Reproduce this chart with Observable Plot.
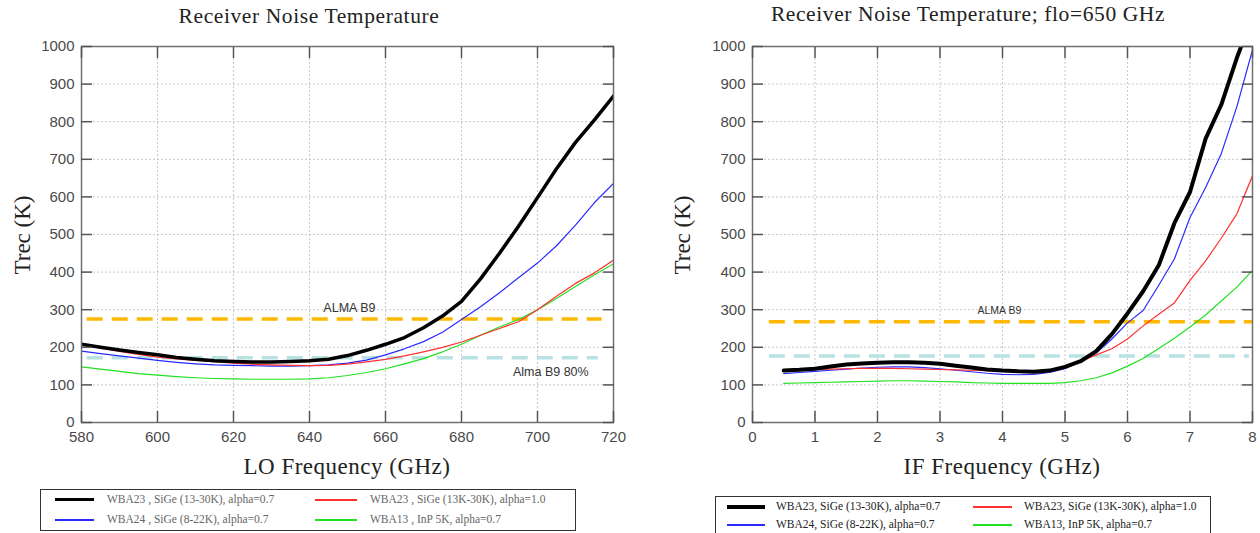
<!DOCTYPE html>
<html><head><meta charset="utf-8">
<script src="https://cdn.jsdelivr.net/npm/d3@7"></script>
<script src="https://cdn.jsdelivr.net/npm/@observablehq/plot@0.6"></script>
<style>
body{margin:0;background:#fff;}
#root{position:relative;width:1260px;height:533px;overflow:hidden;background:#fff;}
.abs{position:absolute;white-space:nowrap;line-height:1;}
.title{font-family:"Liberation Serif","DejaVu Serif",serif;font-size:21.5px;color:#222;transform:translateX(-50%);letter-spacing:0.6px;}
.xlab{font-family:"Liberation Serif","DejaVu Serif",serif;font-size:23px;color:#222;transform:translateX(-50%);letter-spacing:0.5px;}
.ylab{font-family:"Liberation Serif","DejaVu Serif",serif;font-size:23px;color:#222;transform:translate(-50%,-50%) rotate(-90deg);}
.legend{position:absolute;border:1.5px solid #333;box-sizing:border-box;background:#fff;}
.item{position:absolute;font-family:"Liberation Serif","DejaVu Serif",serif;font-size:11.5px;line-height:1;white-space:nowrap;}
.sw{position:absolute;height:0;}
.plot{position:absolute;top:0;}
</style>
</head><body>
<div id="root"></div>
<script>
// ---------- data ----------
const seriesNames = ["WBA23 , SiGe (13-30K), alpha=0.7","WBA23 , SiGe (13K-30K), alpha=1.0","WBA24 , SiGe (8-22K), alpha=0.7","WBA13 , InP 5K, alpha=0.7"];
const seriesNamesR = ["WBA23, SiGe (13-30K), alpha=0.7","WBA23, SiGe (13K-30K), alpha=1.0","WBA24, SiGe (8-22K), alpha=0.7","WBA13, InP 5K, alpha=0.7"];
const seriesColors = ["#000000","#ff3030","#2a2aff","#22e022"];
const seriesWidthsL = [3.5,1.2,1.2,1.2];
const seriesWidthsR = [4,1.2,1.2,1.2];
const legendWidthsL = [3.5,2,2,2];
const legendWidthsR = [4.5,2,2,2];

const loFreq = [580,585,590,595,600,605,610,615,620,625,630,635,640,645,650,655,660,665,670,675,680,685,690,695,700,705,710,715,720];
const loBlack = [208,200,193,186,180,173,168,164,162,161,161,162,164,168,178,192,208,226,252,283,322,382,450,522,598,675,745,805,868];
const loRed   = [207,198,189,181,174,169,165,162,158,155,153,152,151,152,155,161,168,177,188,200,214,232,250,268,300,336,370,398,432];
const loBlue  = [190,183,177,171,165,160,156,153,152,151,150,150,151,153,158,166,180,196,215,240,274,308,345,385,424,470,525,585,636];
const loGreen = [148,142,136,130,126,122,119,117,116,115,115,115,116,119,125,133,143,156,170,188,208,232,254,274,300,330,362,393,422];

const ifFreq = [0.5,0.75,1,1.25,1.5,1.75,2,2.25,2.5,2.75,3,3.25,3.5,3.75,4,4.25,4.5,4.75,5,5.25,5.5,5.75,6,6.25,6.5,6.75,7,7.25,7.5,7.75,8];
const ifBlack = [138,140,143,149,154,157,159,160,160,159,156,151,146,141,138,136,135,138,148,163,190,235,290,349,418,530,613,755,845,970,1080];
const ifRed   = [137,139,141,142,143,144,144,144,143,142,141,140,139,138,137,137,137,139,148,163,180,196,222,257,288,318,378,430,490,555,656];
const ifBlue  = [130,133,136,139,142,145,147,148,148,146,143,139,135,131,128,127,128,133,143,163,185,222,265,298,365,435,545,625,715,840,991];
const ifGreen = [104,105,106,107,108,109,110,111,111,110,109,108,106,105,104,104,104,104,106,111,119,132,150,170,197,224,254,286,323,360,405];

const loTicks = [580,600,620,640,660,680,700,720];
const ifTicks = [0,1,2,3,4,5,6,7,8];
const yTicks = [0,100,200,300,400,500,600,700,800,900,1000];

const refNames = ["ALMA B9","Alma B9 80%"];
const refColors = ["#ffb800","#b8e2e2"];
const loRefValue = [275,172];
const loRefX1 = [581.5,581.5];
const loRefX2 = [717,716];
const loRefLabelX = [650.5,703.5];
const loRefLabelY = [305,133];
const ifRefValue = [268,177];
const ifRefX1 = [0.27,0.27];
const ifRefX2 = [8,7.95];
const ifRefLabelX = [3.95];
const ifRefLabelY = [297];

// ---------- build ----------
const tickFont = '"Liberation Sans Narrow","Liberation Sans","DejaVu Sans",sans-serif';
function tidy(xs, cols) {
  const out = [];
  cols.forEach((ys, k) => xs.forEach((x, i) => out.push({x, y: ys[i], s: k})));
  return out;
}
function chart({xs, cols, widths, xDomain, xTicks, refVal, refX1, refX2, labX, labY, labSize, marginLeft, marginRight}) {
  const data = tidy(xs, cols);
  const refs = refVal.map((v, i) => ({v, x1: refX1[i], x2: refX2[i], c: refColors[i]}));
  const labs = labX.map((x, i) => ({x, y: labY[i], t: refNames[i]}));
  const lineMarks = cols.map((_, k) => Plot.line(data.filter(d => d.s === k), {x: "x", y: "y", stroke: seriesColors[k], strokeWidth: widths[k], clip: true}));
  const fmt = d3.format("d");
  return Plot.plot({
    width: 630, height: 533,
    marginLeft, marginRight, marginTop: 46, marginBottom: 111,
    x: {domain: xDomain},
    y: {domain: [0, 1000]},
    style: {fontFamily: tickFont, fontSize: "15px", color: "#4a4a4a", background: "transparent", overflow: "visible"},
    marks: [
      Plot.gridX(xTicks, {stroke: "#c8c8c8", strokeOpacity: 1, strokeDasharray: "2,2"}),
      Plot.gridY(yTicks, {stroke: "#c8c8c8", strokeOpacity: 1, strokeDasharray: "2,2"}),
      Plot.ruleY(refs, {y: "v", x1: "x1", x2: "x2", stroke: "c", strokeWidth: 3.5, strokeDasharray: "16,9"}),
      ...lineMarks.slice(1).reverse(), lineMarks[0],
      Plot.text(labs, {x: "x", y: "y", text: "t", fontFamily: '"Liberation Sans",Arial,sans-serif', fontSize: labSize, fill: "#333"}),
      Plot.frame({stroke: "#707070", strokeWidth: 1.5}),
      Plot.axisX(xTicks, {anchor: "bottom", tickSize: 0, tickPadding: 9, tickFormat: fmt, label: null}),
      Plot.axisX(xTicks, {anchor: "bottom", tickSize: -11, fill: "none", stroke: "#555", strokeWidth: 1.5, label: null}),
      Plot.axisX(xTicks, {anchor: "top", tickSize: -11, fill: "none", stroke: "#555", strokeWidth: 1.5, label: null}),
      Plot.axisY(yTicks, {anchor: "left", tickSize: 0, tickPadding: 7, tickFormat: fmt, label: null}),
      Plot.axisY(yTicks, {anchor: "left", tickSize: -11, fill: "none", stroke: "#555", strokeWidth: 1.5, label: null}),
      Plot.axisY(yTicks, {anchor: "right", tickSize: -11, fill: "none", stroke: "#555", strokeWidth: 1.5, label: null})
    ]
  });
}

const root = document.getElementById("root");
function place(el, left) { el.classList.add("plot"); el.style.left = left + "px"; root.appendChild(el); }

place(chart({xs: loFreq, cols: [loBlack, loRed, loBlue, loGreen], widths: seriesWidthsL, xDomain: [580, 720], xTicks: loTicks,
  refVal: loRefValue, refX1: loRefX1, refX2: loRefX2, labX: loRefLabelX, labY: loRefLabelY, labSize: 12.5, marginLeft: 81, marginRight: 17}), 0);
place(chart({xs: ifFreq, cols: [ifBlack, ifRed, ifBlue, ifGreen], widths: seriesWidthsR, xDomain: [0, 8], xTicks: ifTicks,
  refVal: ifRefValue, refX1: ifRefX1, refX2: ifRefX2, labX: ifRefLabelX, labY: ifRefLabelY, labSize: 10.5, marginLeft: 122, marginRight: 8}), 630);

function div(cls, text, css) {
  const d = document.createElement("div");
  d.className = "abs " + cls; d.textContent = text; Object.assign(d.style, css); root.appendChild(d); return d;
}
div("title", "Receiver Noise Temperature", {left: "309px", top: "6px"});
div("title", "Receiver Noise Temperature; flo=650 GHz", {left: "968px", top: "4px"});
div("xlab", "LO Frequency (GHz)", {left: "347px", top: "455px"});
div("xlab", "IF Frequency (GHz)", {left: "1002px", top: "455px"});
div("ylab", "Trec (K)", {left: "22px", top: "235px"});
div("ylab", "Trec (K)", {left: "682px", top: "235px"});

function legend(box, names, widths, swX, txX, rowY, textColor) {
  const lg = document.createElement("div");
  lg.className = "legend";
  Object.assign(lg.style, {left: box[0] + "px", top: box[1] + "px", width: box[2] + "px", height: box[3] + "px"});
  root.appendChild(lg);
  [0, 1, 2, 3].forEach(k => {
    const col = k === 0 || k === 2 ? 0 : 1;
    const row = k < 2 ? 0 : 1;
    const sw = document.createElement("div");
    sw.className = "sw";
    Object.assign(sw.style, {left: swX[col][0] + "px", width: (swX[col][1] - swX[col][0]) + "px", top: Math.round(rowY[row] - widths[k] / 2) + "px", borderTop: widths[k] + "px solid " + seriesColors[k]});
    root.appendChild(sw);
    const t = document.createElement("div");
    t.className = "item"; t.textContent = names[k];
    Object.assign(t.style, {left: txX[col] + "px", top: (rowY[row] - 6) + "px", color: textColor});
    root.appendChild(t);
  });
}
legend([40, 489, 536, 42], seriesNames, legendWidthsL, [[55, 94], [315, 357]], [107, 370], [500, 520], "#666");
legend([715, 496, 496, 48], seriesNamesR, legendWidthsR, [[727, 765], [973, 1012]], [776, 1024], [507, 525], "#222");
</script>
</body></html>
